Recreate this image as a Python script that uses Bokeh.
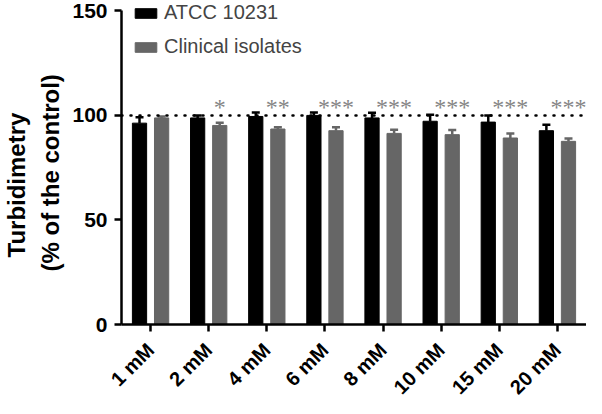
from math import pi
from bokeh.plotting import figure
from bokeh.models import (ColumnDataSource, FactorRange, Range1d, FixedTicker, Whisker,
                          TeeHead, Span, Legend, LegendItem, Title)
from bokeh.transform import dodge
from bokeh.embed import file_html
from bokeh.resources import INLINE

categories = ["1 mM", "2 mM", "4 mM", "6 mM", "8 mM", "10 mM", "15 mM", "20 mM"]
atcc = [96.3, 98.8, 99.5, 100.0, 98.8, 97.2, 96.8, 92.7]
atcc_err = [2.8, 1.2, 1.9, 1.4, 2.5, 3.1, 3.2, 2.8]
clinical = [98.8, 95.2, 93.5, 92.7, 91.4, 90.8, 89.2, 87.6]
clinical_err = [0.7, 1.3, 0.8, 1.6, 1.8, 2.2, 2.2, 1.3]
stars = ["", "*", "**", "***", "***", "***", "***", "***"]
control_level = 100
star_level = 104
y_ticks = [0, 50, 100, 150]
y_label_lines = ["Turbidimetry", "(% of the control)"]

FONT = "Liberation Sans"
BLACK = "#000000"
GRAY = "#666666"
STAR = "#858585"

src = ColumnDataSource(dict(
    cat=categories,
    atcc=atcc,
    atcc_up=[v + e for v, e in zip(atcc, atcc_err)],
    clin=clinical,
    clin_up=[v + e for v, e in zip(clinical, clinical_err)],
    stars=stars,
    star_y=[star_level] * len(categories),
))

p = figure(x_range=FactorRange(*categories, range_padding=0), y_range=Range1d(0, 154),
           width=586, height=412, output_backend="svg", toolbar_location=None,
           min_border_left=119, min_border_right=0, min_border_top=2, min_border_bottom=88)
p.outline_line_color = None
p.xgrid.visible = False
p.ygrid.visible = False
p.background_fill_color = "white"
p.border_fill_color = "white"

off = 0.19
bw = 0.245
r1 = p.vbar(x=dodge("cat", -off, range=p.x_range), top="atcc", width=bw, source=src,
            fill_color=BLACK, line_color=BLACK)
r2 = p.vbar(x=dodge("cat", off, range=p.x_range), top="clin", width=bw, source=src,
            fill_color=GRAY, line_color=GRAY)

w1 = Whisker(base=dodge("cat", -off, range=p.x_range), lower="atcc", upper="atcc_up", source=src,
             line_color=BLACK, line_width=2.5, lower_head=None,
             upper_head=TeeHead(size=8, line_color=BLACK, line_width=2.5))
w2 = Whisker(base=dodge("cat", off, range=p.x_range), lower="clin", upper="clin_up", source=src,
             line_color=GRAY, line_width=2.5, lower_head=None,
             upper_head=TeeHead(size=8, line_color=GRAY, line_width=2.5))
p.add_layout(w1)
p.add_layout(w2)

p.add_layout(Span(location=control_level, dimension="width", line_color=BLACK, line_width=2.5,
                  line_dash="1 8", line_cap="round"))

p.text(x=dodge("cat", off, range=p.x_range), y="star_y", text="stars", source=src,
       text_align="center", text_baseline="alphabetic", text_color=STAR,
       text_font_size="24px", text_font=FONT)

# axes
p.yaxis.ticker = FixedTicker(ticks=y_ticks)
p.yaxis.bounds = (y_ticks[0], y_ticks[-1])
for ax in (p.xaxis[0], p.yaxis[0]):
    ax.axis_line_width = 2.5
    ax.major_tick_line_width = 2.5
    ax.major_tick_out = 7
    ax.major_tick_in = 0
    ax.minor_tick_line_color = None
    ax.major_label_text_font = FONT
    ax.major_label_text_font_style = "bold"
    ax.major_label_text_color = BLACK
    ax.axis_line_color = BLACK
    ax.major_tick_line_color = BLACK
p.yaxis.major_label_text_font_size = "21px"
p.yaxis.major_label_standoff = 7
p.xaxis.major_label_text_font_size = "20px"
p.xaxis.major_label_orientation = pi / 4
p.xaxis.major_label_standoff = 15
p.xaxis.group_text_font_size = "0px"

# two-line y-axis title, inner line first
t_inner = Title(text=y_label_lines[1], align="left", offset=53, standoff=11,
                text_font=FONT, text_font_style="bold", text_font_size="24px", text_color=BLACK)
t_outer = Title(text=y_label_lines[0], align="left", offset=67, standoff=0,
                text_font=FONT, text_font_style="bold", text_font_size="24px", text_color=BLACK)
p.add_layout(t_inner, "left")
p.add_layout(t_outer, "left")

legend = Legend(items=[LegendItem(label="ATCC 10231", renderers=[r1]),
                       LegendItem(label="Clinical isolates", renderers=[r2])],
                location=(11, 266), padding=0, margin=0, spacing=11,
                glyph_width=27, glyph_height=12, label_standoff=5, label_height=22,
                label_text_font=FONT, label_text_font_size="20px",
                background_fill_alpha=0, border_line_alpha=0)
p.add_layout(legend)

open("out.html", "w").write(file_html(p, INLINE))
